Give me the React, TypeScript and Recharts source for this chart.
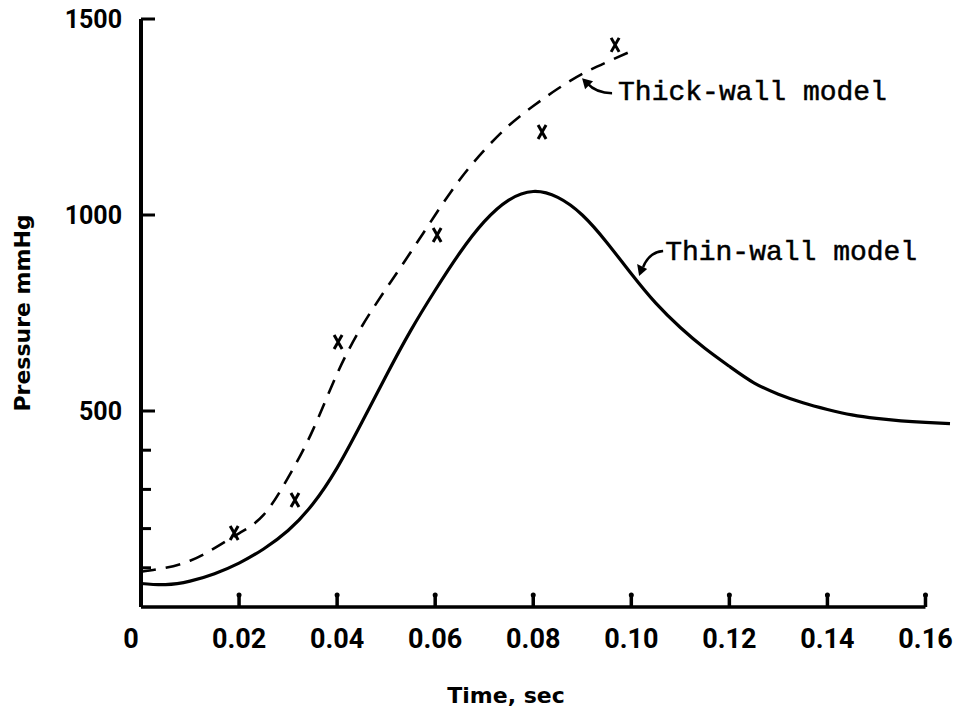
import React from 'react';
import { ComposedChart, Line, Scatter, XAxis, YAxis, ReferenceDot, ReferenceLine, Label } from 'recharts';

// thin-wall model (solid curve)
const thinTime = [0, 0.005, 0.01, 0.015, 0.02, 0.025, 0.03, 0.035, 0.04, 0.045, 0.05, 0.055, 0.06, 0.065, 0.07, 0.075, 0.08, 0.085, 0.09, 0.095, 0.1, 0.105, 0.11, 0.115, 0.12, 0.125, 0.13, 0.135, 0.14, 0.145, 0.15, 0.155, 0.16, 0.165];
const thinPressure = [60, 57, 66, 85, 112, 148, 195, 262, 355, 470, 590, 705, 808, 903, 983, 1038, 1060, 1045, 1000, 930, 850, 775, 713, 660, 614, 572, 543, 521, 504, 490, 481, 475, 471, 468];

// thick-wall model (dashed curve)
const thickTime = [0, 0.005, 0.01, 0.015, 0.02, 0.025, 0.03, 0.035, 0.04, 0.045, 0.05, 0.055, 0.06, 0.065, 0.07, 0.075, 0.08, 0.085, 0.09, 0.095, 0.1, 0.101];
const thickPressure = [90, 100, 118, 150, 188, 235, 330, 450, 595, 715, 812, 905, 1000, 1090, 1165, 1228, 1278, 1322, 1360, 1390, 1418, 1422];

// measured points (x marks)
const measuredTime = [0.019, 0.0314, 0.0402, 0.0604, 0.0818, 0.0967];
const measuredPressure = [189, 273, 676, 949, 1212, 1434];

const xTicks = [0, 0.02, 0.04, 0.06, 0.08, 0.1, 0.12, 0.14, 0.16];
const yTicks = [0, 100, 200, 300, 400, 500, 1000, 1500];
const yLabels = [500, 1000, 1500];

const noteLabels = ['Thick-wall model', 'Thin-wall model'];
const noteTime = [0.0973, 0.1069];
const notePressure = [1293, 885];

const toRows = (ts: number[], vs: number[]) => ts.map((t, i) => ({ t, v: vs[i] }));
const thinData = toRows(thinTime, thinPressure);
const thickData = toRows(thickTime, thickPressure);
const measuredData = toRows(measuredTime, measuredPressure);
const tickData = xTicks.slice(1).map((t) => ({ t, v: 0 }));

const digitFont = 'Roboto, "DejaVu Sans", sans-serif';
const wordFont = '"DejaVu Sans", sans-serif';
const monoFont = '"Liberation Mono", "DejaVu Sans Mono", monospace';

function XTick(props: any) {
  const { x, y, payload } = props;
  const v = payload.value;
  const px = Number(x);
  const py = Number(y);
  return (
    <text x={v === 0 ? px - 10 : px} y={py + 41} textAnchor="middle" fontFamily={digitFont} fontWeight="bold" fontSize={27} fill="#000" stroke="none">
      {v === 0 ? '0' : v.toFixed(2)}
    </text>
  );
}

function YTick(props: any) {
  const { x, y, payload } = props;
  const v = payload.value;
  if (v === 0) return null;
  const major = yLabels.includes(v);
  const px = Number(x);
  const py = Number(y);
  return (
    <g>
      <rect x={px} y={py - 1.5} width={major ? 14 : 10} height={3} fill="#000" />
      {major && (
        <text x={px - 19} y={py + 9} textAnchor="end" fontFamily={digitFont} fontWeight="bold" fontSize={25} fill="#000" stroke="none">
          {v}
        </text>
      )}
    </g>
  );
}

// upward tick mark sitting on the time axis
function TickMark({ cx, cy }: any) {
  return (
    <g>
      <rect x={cx - 1.75} y={cy - 13} width={3.5} height={13} fill="#000" />
      <circle cx={cx} cy={cy - 12} r={2.5} fill="#000" />
    </g>
  );
}

function XMark({ cx, cy }: any) {
  return (
    <path
      d={`M${cx - 4},${cy - 7} L${cx + 4},${cy + 7} M${cx + 4},${cy - 7} L${cx - 4},${cy + 7}`}
      stroke="#000"
      strokeWidth={3}
      fill="none"
    />
  );
}

const arrows = [
  { path: 'M -6 -7 Q -22 -7 -31 -17', head: '-36,-22 -25,-19 -33,-11' },
  { path: 'M -2 -9 Q -16 -8 -22 7', head: '-26,16 -28,4 -18,9' },
];

function Note(i: number) {
  return (p: any) => (
    <g>
      <path d={arrows[i].path} transform={`translate(${p.cx},${p.cy})`} stroke="#000" strokeWidth={2.5} fill="none" />
      <polygon points={arrows[i].head} transform={`translate(${p.cx},${p.cy})`} fill="#000" />
      <text x={p.cx} y={p.cy} fontFamily={monoFont} fontSize={28} fill="#000" stroke="#000" strokeWidth={0.5}>
        {noteLabels[i]}
      </text>
    </g>
  );
}

export default function App() {
  return (
    <div style={{ position: 'absolute', left: 0, top: 0, background: '#fff' }}>
      <ComposedChart width={971} height={709} margin={{ top: 19, right: 21, bottom: 0, left: 0 }}>
        <XAxis
          type="number"
          dataKey="t"
          domain={[0, 0.165]}
          ticks={xTicks}
          interval={0}
          axisLine={false}
          tickLine={false}
          tickSize={0}
          tickMargin={0}
          tick={XTick}
          height={102}
        >
          <Label
            content={({ viewBox }: any) => (
              <text x={viewBox.x + 365} y={viewBox.y + viewBox.height - 6} textAnchor="middle" fontFamily={wordFont} fontWeight="bold" fontSize={22} fill="#000">
                Time, sec
              </text>
            )}
          />
        </XAxis>
        <YAxis
          type="number"
          domain={[0, 1500]}
          ticks={yTicks}
          interval={0}
          width={141}
          axisLine={{ stroke: '#000', strokeWidth: 4 }}
          tickLine={false}
          tickSize={0}
          tickMargin={0}
          tick={YTick}
        >
          <Label
            content={({ viewBox }: any) => {
              const cx = viewBox.x + 22;
              const cy = viewBox.y + viewBox.height / 2;
              return (
                <text x={cx} y={cy} transform={`rotate(-90 ${cx} ${cy})`} textAnchor="middle" dominantBaseline="central" fontFamily={wordFont} fontWeight="bold" fontSize={22} fill="#000">
                  Pressure mmHg
                </text>
              );
            }}
          />
        </YAxis>
        <ReferenceLine segment={[{ x: 0, y: 0 }, { x: 0.16, y: 0 }]} stroke="#000" strokeWidth={3.5} ifOverflow="visible" />
        <ReferenceLine segment={[{ x: 0, y: 0 }, { x: 0, y: 1500 }]} stroke="#000" strokeWidth={4} ifOverflow="visible" />
        <Scatter data={tickData} dataKey="v" shape={TickMark} isAnimationActive={false} />
        <Line data={thickData} dataKey="v" type="natural" stroke="#000" strokeWidth={2.6} strokeDasharray="15 10" dot={false} isAnimationActive={false} />
        <Line data={thinData} dataKey="v" type="natural" stroke="#000" strokeWidth={3.2} dot={false} isAnimationActive={false} />
        <Scatter data={measuredData} dataKey="v" shape={<XMark />} isAnimationActive={false} />
        {noteLabels.map((label, i) => (
          <ReferenceDot key={label} x={noteTime[i]} y={notePressure[i]} r={0} shape={Note(i)} />
        ))}
      </ComposedChart>
    </div>
  );
}
